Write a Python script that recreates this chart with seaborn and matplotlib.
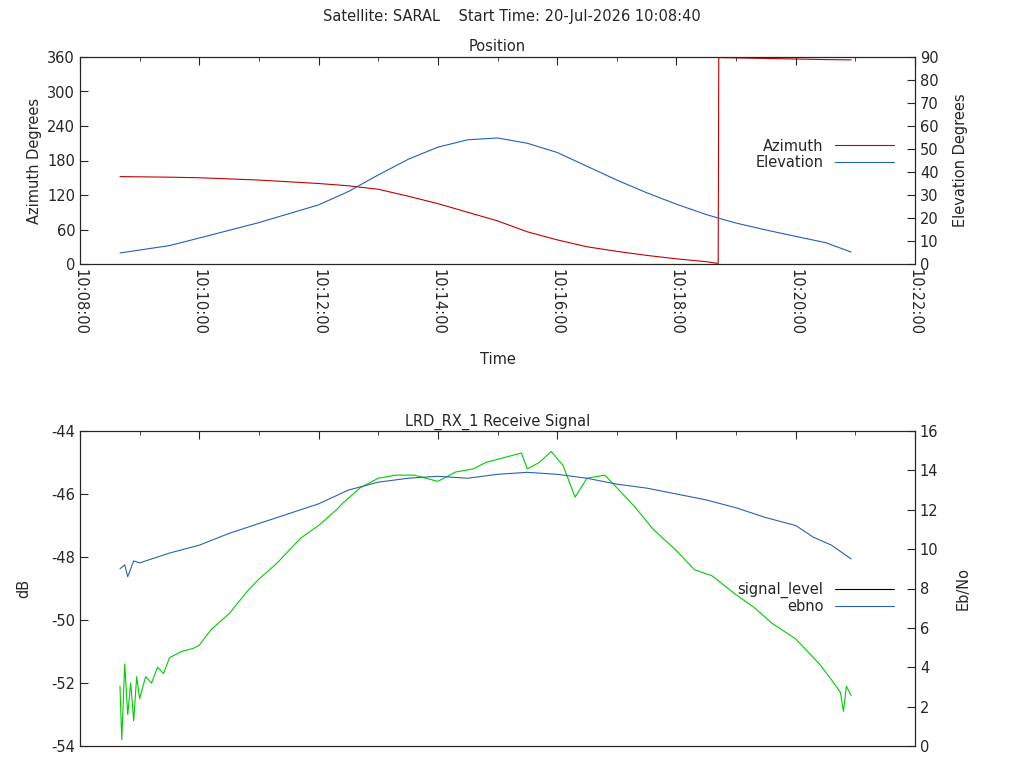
import numpy as np
import pandas as pd
import seaborn as sns
import matplotlib.pyplot as plt
from matplotlib.ticker import MultipleLocator, FuncFormatter

# time in minutes after 10:08:00
pos_t = [0.67, 1.5, 2.0, 3.0, 4.0, 4.5, 5.0, 5.5, 6.0, 6.5, 7.0, 7.5, 8.0, 8.5, 9.0, 9.5, 10.0, 10.5,
         10.7, 10.71, 11.0, 11.5, 12.0, 12.5, 12.93]
azimuth = [152, 151, 150, 146, 140, 136, 130, 118, 105, 90, 75, 56, 42, 30, 22, 15, 9, 4,
           1, 359, 358.5, 357.5, 356.5, 355.5, 355]
elevation = [4.8, 8.0, 11.3, 18.0, 25.7, 31.5, 38.7, 45.5, 50.8, 54.0, 54.8, 52.5, 48.5, 42.5,
             36.5, 31.0, 26.0, 21.5, 20.0, 19.9, 17.8, 14.8, 12.0, 9.3, 5.2]

sig_t = [0.67, 0.7, 0.75, 0.8, 0.85, 0.9, 0.95, 1.0, 1.1, 1.2, 1.3, 1.4, 1.5, 1.7, 1.9, 2.0, 2.2,
         2.5, 2.8, 3.0, 3.3, 3.7, 4.0, 4.3, 4.4, 4.7, 5.0, 5.3, 5.6, 6.0, 6.3, 6.6, 6.8, 7.0,
         7.2, 7.4, 7.5, 7.7, 7.9, 8.1, 8.3, 8.5, 8.8, 9.0, 9.3, 9.6, 10.0, 10.3, 10.6, 11.0,
         11.3, 11.6, 12.0, 12.2, 12.4, 12.6, 12.75, 12.8, 12.85, 12.93]
signal_level = [-52.1, -53.8, -51.4, -53.0, -52.0, -53.2, -51.8, -52.5, -51.8, -52.0, -51.5, -51.7,
                -51.2, -51.0, -50.9, -50.8, -50.3, -49.8, -49.1, -48.7, -48.2, -47.4, -47.0,
                -46.5, -46.3, -45.8, -45.5, -45.4, -45.4, -45.6, -45.3, -45.2, -45.0, -44.9,
                -44.8, -44.7, -45.2, -45.0, -44.65, -45.1, -46.1, -45.5, -45.4, -45.8, -46.4,
                -47.1, -47.8, -48.4, -48.6, -49.2, -49.6, -50.1, -50.6, -51.0, -51.4, -51.9,
                -52.3, -52.9, -52.1, -52.4]
ebno_t = [0.67, 0.75, 0.8, 0.9, 1.0, 1.5, 2.0, 2.5, 3.0, 3.5, 4.0, 4.5, 5.0, 5.5, 6.0, 6.5, 7.0,
          7.5, 8.0, 8.5, 9.0, 9.5, 10.0, 10.5, 11.0, 11.5, 12.0, 12.3, 12.6, 12.93]
ebno = [9.0, 9.2, 8.6, 9.4, 9.3, 9.8, 10.2, 10.8, 11.3, 11.8, 12.3, 13.0, 13.4, 13.6, 13.7, 13.6,
        13.8, 13.9, 13.8, 13.6, 13.3, 13.1, 12.8, 12.5, 12.1, 11.6, 11.2, 10.6, 10.2, 9.5]

sns.set_style('white')
plt.rcParams['font.family'] = ['DejaVu Sans']
plt.rcParams['font.size'] = 10.5
plt.rcParams['axes.unicode_minus'] = False

fig = plt.figure(figsize=(10.24, 7.68), dpi=100)
W, H = 1024, 768
ax1 = fig.add_axes([80 / W, 1 - 264 / H, 835 / W, 207 / H])
ax2 = fig.add_axes([80 / W, 1 - 746 / H, 835 / W, 315 / H])
fig.text(0.5, 1 - 17 / H, 'Satellite: SARAL    Start Time: 20-Jul-2026 10:08:40',
         ha='center', va='center')


def tfmt(v, _):
    m = int(round(v))
    return f'{10 + (8 + m) // 60}:{(8 + m) % 60:02d}:00'


def style(ax):
    ax.set_xlim(0, 14)
    ax.xaxis.set_major_locator(MultipleLocator(2))
    ax.xaxis.set_minor_locator(MultipleLocator(1))
    ax.tick_params(which='both', direction='in', top=True, right=False)
    ax.tick_params(which='major', length=6)
    ax.tick_params(which='minor', length=3)
    for s in ax.spines.values():
        s.set_color('black')
        s.set_linewidth(0.8)


# Position
pdf = pd.DataFrame({'t': pos_t, 'az': azimuth, 'el': elevation})
sns.lineplot(data=pdf, x='t', y='az', ax=ax1, color='#c00000', lw=0.8, label='Azimuth', legend=False)
ax1r = ax1.twinx()
sns.lineplot(data=pdf, x='t', y='el', ax=ax1r, color='#1f5fbf', lw=0.8, label='Elevation', legend=False)
style(ax1)
ax1.set_ylim(0, 360)
ax1.yaxis.set_major_locator(MultipleLocator(60))
ax1r.set_ylim(0, 90)
ax1r.yaxis.set_major_locator(MultipleLocator(10))
ax1r.tick_params(direction='in', length=6)
ax1.xaxis.set_major_formatter(FuncFormatter(tfmt))
plt.setp(ax1.get_xticklabels(), rotation=270)
ax1.set_xlabel('Time', labelpad=12)
ax1.set_ylabel('Azimuth Degrees')
ax1r.set_ylabel('Elevation Degrees', labelpad=10)
ax1.set_title('Position', fontsize=10.5, pad=4)
h1, l1 = ax1.get_legend_handles_labels()
h2, l2 = ax1r.get_legend_handles_labels()
ax1r.legend(h1 + h2, l1 + l2, loc='center right', bbox_to_anchor=(0.99, 0.53), frameon=False,
            markerfirst=False, handlelength=4, labelspacing=0.1)

# Receive signal
sdf = pd.DataFrame({'t': sig_t, 'sig': signal_level})
edf = pd.DataFrame({'t': ebno_t, 'eb': ebno})
sns.lineplot(data=sdf, x='t', y='sig', ax=ax2, color='#00cc00', lw=0.8, legend=False)
ax2r = ax2.twinx()
sns.lineplot(data=edf, x='t', y='eb', ax=ax2r, color='#2a62b0', lw=0.8, legend=False)
style(ax2)
ax2.set_ylim(-54, -44)
ax2.yaxis.set_major_locator(MultipleLocator(2))
ax2r.set_ylim(0, 16)
ax2r.yaxis.set_major_locator(MultipleLocator(2))
ax2r.tick_params(direction='in', length=6)
ax2.set_xticklabels([])
ax2.set_xlabel('')
ax2.set_ylabel('dB', labelpad=14)
ax2r.set_ylabel('Eb/No', labelpad=12)
ax2.set_title('LRD_RX_1 Receive Signal', fontsize=10.5, pad=4)
hs = [plt.Line2D([], [], color='black', lw=0.8), plt.Line2D([], [], color='#2a62b0', lw=0.8)]
ax2r.legend(hs, ['signal_level', 'ebno'], loc='center right', bbox_to_anchor=(0.99, 0.47),
            frameon=False, markerfirst=False, handlelength=4, labelspacing=0.1)

fig.savefig('out.png', dpi=100)
